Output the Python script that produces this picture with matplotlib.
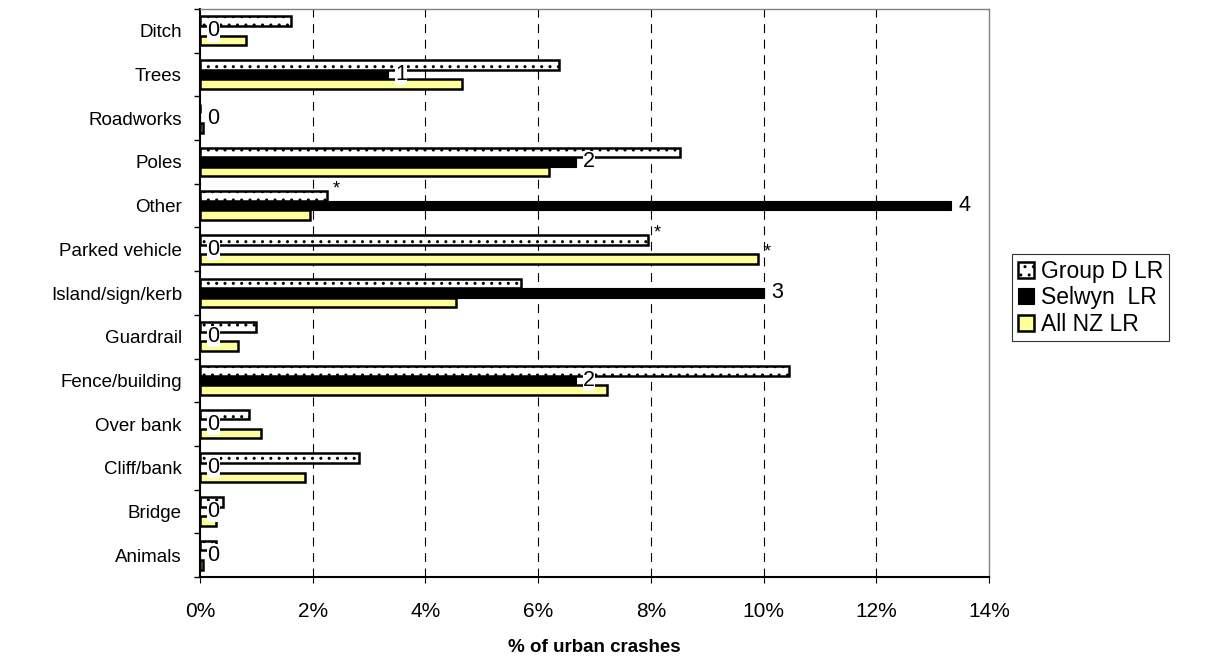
import matplotlib
matplotlib.use("Agg")
import matplotlib.pyplot as plt
import numpy as np

plt.rcParams['font.family'] = ['Liberation Sans', 'DejaVu Sans']
plt.rcParams['hatch.linewidth'] = 1.0

categories = ["Ditch", "Trees", "Roadworks", "Poles", "Other", "Parked vehicle",
              "Island/sign/kerb", "Guardrail", "Fence/building", "Over bank",
              "Cliff/bank", "Bridge", "Animals"]
group_d = [1.62, 6.37, 0.0, 8.52, 2.25, 7.95, 5.70, 1.00, 10.45, 0.87, 2.82, 0.40, 0.28]
selwyn = [0.0, 3.33, 0.0, 6.67, 13.33, 0.0, 10.0, 0.0, 6.67, 0.0, 0.0, 0.0, 0.0]
all_nz = [0.82, 4.65, 0.05, 6.20, 1.95, 9.90, 4.55, 0.67, 7.22, 1.08, 1.87, 0.28, 0.05]
selwyn_counts = ["0", "1", "0", "2", "4", "0", "3", "0", "2", "0", "0", "0", "0"]
group_d_marks = ["", "", "", "", "*", "*", "", "", "", "", "", "", ""]
all_nz_marks = ["", "", "", "", "", "*", "", "", "", "", "", "", ""]
xticks = [0, 2, 4, 6, 8, 10, 12, 14]

W, H = 1207, 664
fig = plt.figure(figsize=(W / 100, H / 100), dpi=100)
L, R, T, B = 200, 989, 9, 577
ax = fig.add_axes([L / W, 1 - B / H, (R - L) / W, (B - T) / H])

n = len(categories)
ypos = np.arange(n)[::-1].astype(float)
h = 0.22

ax.barh(ypos + h, group_d, height=h, color='white', edgecolor='black',
        hatch='..', linewidth=1.8, label='Group D LR', zorder=3)
ax.barh(ypos, selwyn, height=h, color='black', edgecolor='black',
        linewidth=0.8, label='Selwyn  LR', zorder=3)
ax.barh(ypos - h, all_nz, height=h, color='#FFFF99', edgecolor='black',
        linewidth=1.8, label='All NZ LR', zorder=3)

for y, v, t in zip(ypos, selwyn, selwyn_counts):
    ax.text(v + 0.13, y, t, va='center', ha='left', fontsize=15.5, zorder=5,
            bbox=dict(facecolor='white', edgecolor='none', pad=0.2))
for y, v, t in zip(ypos, group_d, group_d_marks):
    if t:
        ax.text(v + 0.1, y + h + 0.15, t, va='center', ha='left', fontsize=13, zorder=5)
for y, v, t in zip(ypos, all_nz, all_nz_marks):
    if t:
        ax.text(v + 0.1, y - h + 0.15, t, va='center', ha='left', fontsize=13, zorder=5)

ax.set_xlim(0, 14)
ax.set_ylim(-0.5, n - 0.5)
ax.set_xticks(xticks)
ax.set_xticklabels([f"{x}%" for x in xticks], fontsize=15)
ax.set_yticks(ypos)
ax.set_yticklabels(categories, fontsize=13.5)
ax.set_yticks(np.arange(n + 1) - 0.5, minor=True)
ax.tick_params(axis='y', which='major', length=0, pad=13)
ax.tick_params(axis='y', which='minor', length=4, direction='out', width=1)
ax.tick_params(axis='x', which='major', length=4, direction='out', pad=14)

for x in xticks[1:-1]:
    ax.axvline(x, color='black', linestyle=(0, (8, 6)), linewidth=0.8, zorder=1)

for s in ax.spines.values():
    s.set_color('#808080')
    s.set_linewidth(1)
ax.spines['left'].set_color('black')
ax.spines['bottom'].set_color('black')
ax.spines['left'].set_linewidth(1.5)
ax.spines['bottom'].set_linewidth(1.5)

ax.set_xlabel("% of urban crashes", fontsize=13.5, fontweight='bold', labelpad=13)

leg = fig.legend(loc='upper left', bbox_to_anchor=(1012 / W, 1 - 254 / H), fontsize=16.5,
                 frameon=True, fancybox=False, edgecolor='black', handlelength=0.7,
                 handleheight=0.7, handletextpad=0.3, borderpad=0.25, labelspacing=0.15,
                 borderaxespad=0)
leg.get_frame().set_linewidth(0.8)

fig.savefig("out.png", dpi=100)
